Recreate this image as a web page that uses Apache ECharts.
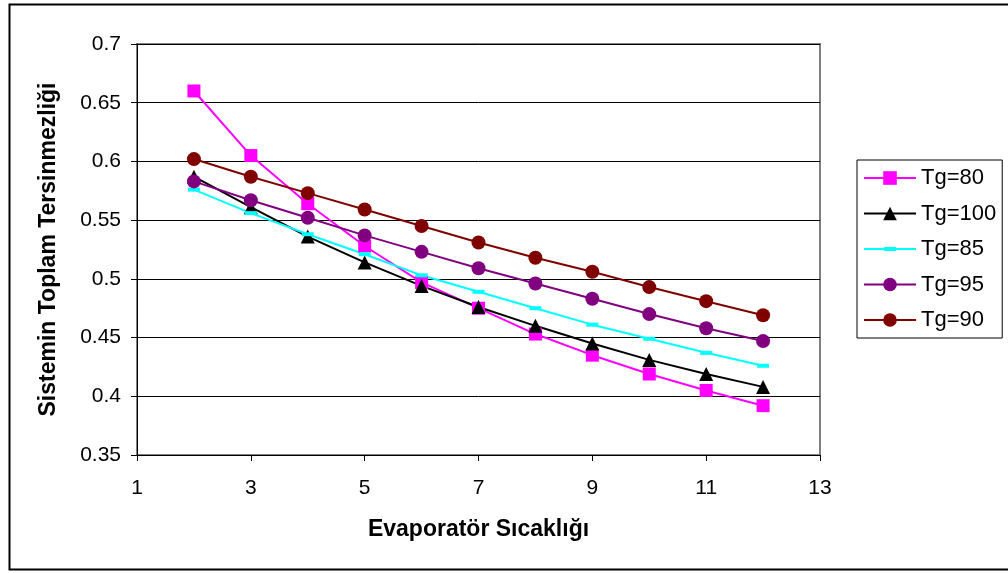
<!DOCTYPE html>
<html>
<head>
<meta charset="utf-8">
<script src="https://cdn.jsdelivr.net/npm/echarts@6/dist/echarts.min.js"></script>
<style>html,body{margin:0;padding:0;background:#fff;}#c{width:1008px;height:573px;}</style>
</head>
<body>
<div id="c"></div>
<script>
const xValues = [2, 3, 4, 5, 6, 7, 8, 9, 10, 11, 12];
const tg80  = [0.660, 0.605, 0.564, 0.528, 0.497, 0.475, 0.453, 0.435, 0.419, 0.405, 0.392];
const tg100 = [0.587, 0.561, 0.536, 0.514, 0.494, 0.476, 0.460, 0.445, 0.431, 0.419, 0.408];
const tg85  = [0.576, 0.556, 0.538, 0.521, 0.503, 0.489, 0.475, 0.461, 0.449, 0.437, 0.426];
const tg95  = [0.583, 0.567, 0.552, 0.537, 0.523, 0.509, 0.496, 0.483, 0.470, 0.458, 0.447];
const tg90  = [0.602, 0.587, 0.573, 0.559, 0.545, 0.531, 0.518, 0.506, 0.493, 0.481, 0.469];
const seriesNames = ['Tg=80', 'Tg=100', 'Tg=85', 'Tg=95', 'Tg=90'];
const xTitle = 'Evaporatör Sıcaklığı';
const yTitle = 'Sistemin Toplam Tersinmezliği';

const font = '"Liberation Sans", Arial, sans-serif';
function pairs(arr){ return xValues.map((x,i)=>[x, arr[i]]); }
function mk(name, data, color, symbol, size){
  return {
    name, type:'line', data:pairs(data), symbol, symbolSize:size,
    lineStyle:{color, width:2}, itemStyle:{color}, showSymbol:true,
    animation:false, z:2
  };
}
const legendData = seriesNames.map(n => n === 'Tg=85'
  ? {name:n, icon:'path://M0,2H52V4H0Z M20,1H32V5H20Z'}
  : {name:n});
const chart = echarts.init(document.getElementById('c'), null, {renderer:'canvas'});
chart.setOption({
  animation:false,
  backgroundColor:'#fff',
  graphic:[{type:'rect', shape:{x:9.5, y:4.5, width:1010, height:565}, style:{fill:'none', stroke:'#000', lineWidth:2}, silent:true, z:-1}],
  grid:{left:137, right:188, top:44, bottom:118, show:true, borderColor:'#808080', borderWidth:2, backgroundColor:'transparent'},
  xAxis:{
    type:'value', min:1, max:13, interval:2,
    name:xTitle, nameLocation:'middle', nameGap:63,
    nameTextStyle:{fontFamily:font, fontSize:23, fontWeight:'bold', color:'#000'},
    axisLine:{show:true, onZero:false, lineStyle:{color:'#000', width:1}},
    axisTick:{show:true, inside:false, length:6, lineStyle:{color:'#000'}},
    axisLabel:{fontFamily:font, fontSize:21, color:'#000', margin:23},
    splitLine:{show:false}
  },
  yAxis:{
    type:'value', min:0.35, max:0.7, interval:0.05,
    name:yTitle, nameLocation:'middle', nameGap:77, nameRotate:90,
    nameTextStyle:{fontFamily:font, fontSize:23, fontWeight:'bold', color:'#000'},
    axisLine:{show:true, onZero:false, lineStyle:{color:'#000', width:1}},
    axisTick:{show:true, inside:false, length:6, lineStyle:{color:'#000'}},
    axisLabel:{fontFamily:font, fontSize:21, color:'#000', margin:16, formatter:v=>String(+v.toFixed(2))},
    splitLine:{show:true, lineStyle:{color:'#000', width:1}}
  },
  legend:{
    orient:'vertical', left:857, top:160,
    data:legendData,
    borderColor:'#000', borderWidth:1, padding:[7,6,7,6],
    itemWidth:52, itemHeight:17, itemGap:13.5,
    textStyle:{fontFamily:font, fontSize:22, lineHeight:22, color:'#000'},
    itemStyle:{borderWidth:0}
  },
  series:[
    mk('Tg=80', tg80, '#ff00ff', 'rect', 13),
    mk('Tg=100', tg100, '#000000', 'triangle', 14),
    mk('Tg=85', tg85, '#00ffff', 'rect', [12,4]),
    mk('Tg=95', tg95, '#800080', 'circle', 14),
    mk('Tg=90', tg90, '#800000', 'circle', 14)
  ]
});
</script>
</body>
</html>
